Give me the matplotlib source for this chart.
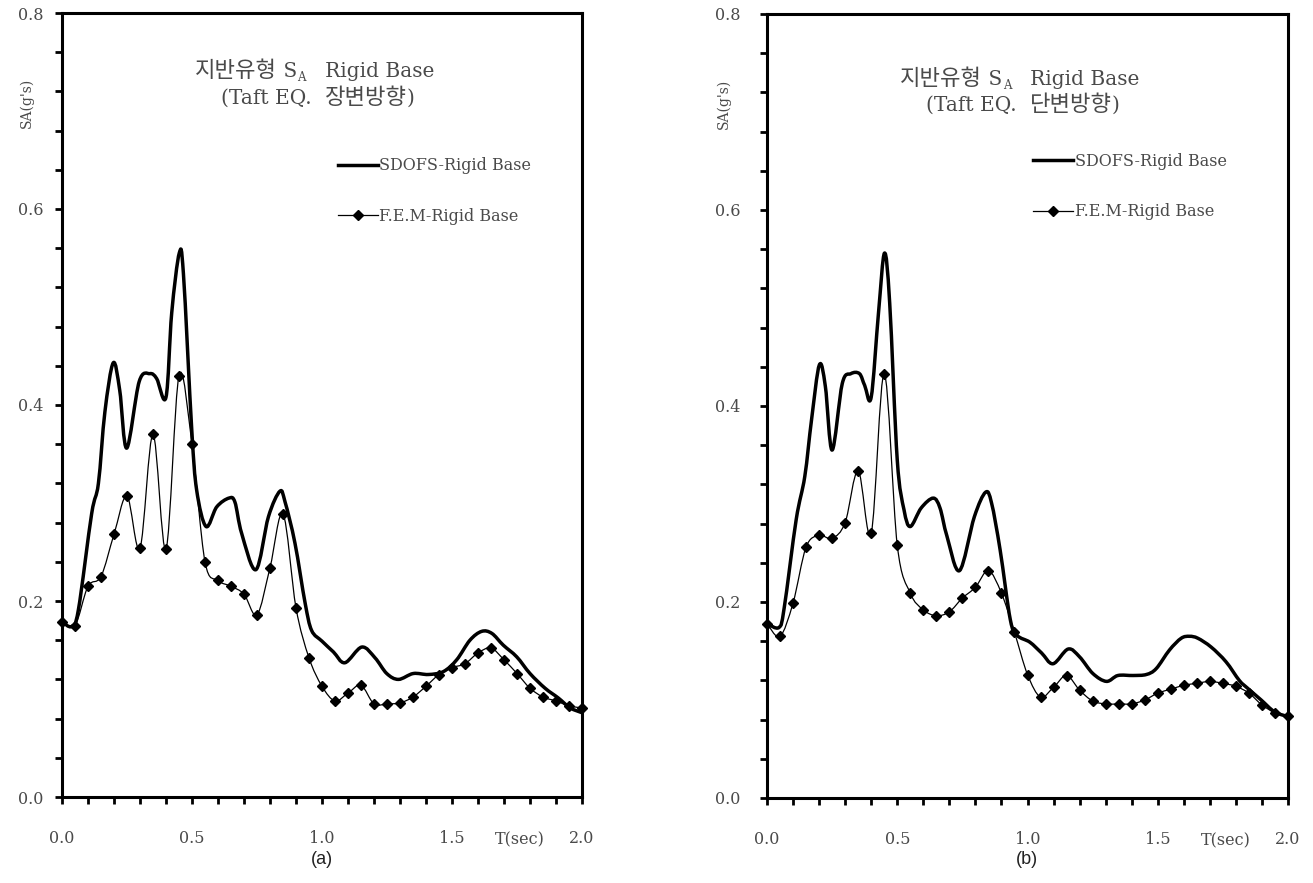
import numpy as np
import matplotlib.pyplot as plt
from matplotlib.path import Path
from matplotlib.patches import PathPatch
from matplotlib.lines import Line2D
from matplotlib.ticker import MultipleLocator, FormatStrFormatter

# Fonts: serif for latin, Korean glyphs fall back to Noto Sans CJK KR
SERIF = ['DejaVu Serif', 'Noto Sans CJK KR']
GREY = '#4a4a4a'

# ---- (a) Taft EQ, long side direction ----
t_sdofs_a = [0.000, 0.037, 0.063, 0.114, 0.140, 0.165, 0.197, 0.222, 0.249, 0.297,
             0.338, 0.364, 0.400, 0.422, 0.451, 0.467, 0.499, 0.518, 0.554, 0.595,
             0.642, 0.665, 0.691, 0.746, 0.794, 0.838, 0.858, 0.896, 0.935, 0.960,
             1.000, 1.044, 1.088, 1.153, 1.204, 1.249, 1.294, 1.351, 1.409, 1.467,
             1.518, 1.569, 1.614, 1.653, 1.697, 1.749, 1.800, 1.858, 1.909, 1.954,
             2.000]
sa_sdofs_a = [0.179, 0.174, 0.191, 0.289, 0.320, 0.393, 0.443, 0.415, 0.356, 0.424,
              0.432, 0.427, 0.408, 0.494, 0.555, 0.534, 0.375, 0.313, 0.276, 0.296,
              0.305, 0.301, 0.269, 0.232, 0.286, 0.312, 0.301, 0.259, 0.198, 0.170,
              0.159, 0.148, 0.137, 0.153, 0.142, 0.126, 0.120, 0.126, 0.125, 0.128,
              0.140, 0.160, 0.169, 0.167, 0.155, 0.143, 0.126, 0.111, 0.101, 0.091,
              0.086]

# F.E.M results are given every 0.05 s
t_fem = [0.00, 0.05, 0.10, 0.15, 0.20, 0.25, 0.30, 0.35, 0.40, 0.45,
         0.50, 0.55, 0.60, 0.65, 0.70, 0.75, 0.80, 0.85, 0.90, 0.95,
         1.00, 1.05, 1.10, 1.15, 1.20, 1.25, 1.30, 1.35, 1.40, 1.45,
         1.50, 1.55, 1.60, 1.65, 1.70, 1.75, 1.80, 1.85, 1.90, 1.95,
         2.00]
sa_fem_a = [0.179, 0.175, 0.215, 0.225, 0.268, 0.307, 0.254, 0.370, 0.253, 0.430,
            0.360, 0.240, 0.221, 0.215, 0.207, 0.186, 0.234, 0.289, 0.193, 0.142,
            0.113, 0.098, 0.106, 0.114, 0.095, 0.095, 0.096, 0.102, 0.113, 0.125,
            0.132, 0.136, 0.147, 0.152, 0.140, 0.126, 0.111, 0.102, 0.098, 0.093,
            0.091]

# ---- (b) Taft EQ, short side direction ----
t_sdofs_b = [0.000, 0.046, 0.066, 0.112, 0.145, 0.171, 0.201, 0.224, 0.250, 0.289,
             0.322, 0.355, 0.375, 0.400, 0.428, 0.451, 0.471, 0.500, 0.526, 0.550,
             0.592, 0.638, 0.664, 0.691, 0.739, 0.796, 0.839, 0.862, 0.895, 0.934,
             0.960, 1.009, 1.054, 1.098, 1.156, 1.200, 1.251, 1.303, 1.347, 1.405,
             1.456, 1.494, 1.545, 1.590, 1.622, 1.654, 1.705, 1.762, 1.813, 1.845,
             1.897, 1.948, 2.000]
sa_sdofs_b = [0.178, 0.174, 0.194, 0.284, 0.328, 0.386, 0.442, 0.420, 0.355, 0.423,
              0.433, 0.433, 0.421, 0.409, 0.495, 0.556, 0.505, 0.345, 0.294, 0.277,
              0.296, 0.306, 0.296, 0.267, 0.232, 0.287, 0.312, 0.301, 0.253, 0.182,
              0.166, 0.159, 0.148, 0.137, 0.152, 0.144, 0.127, 0.119, 0.125, 0.125,
              0.126, 0.132, 0.151, 0.163, 0.165, 0.163, 0.154, 0.139, 0.120, 0.112,
              0.100, 0.088, 0.083]
sa_fem_b = [0.178, 0.165, 0.199, 0.256, 0.268, 0.265, 0.281, 0.334, 0.270, 0.433,
            0.258, 0.209, 0.192, 0.186, 0.190, 0.204, 0.215, 0.232, 0.209, 0.169,
            0.126, 0.103, 0.113, 0.125, 0.110, 0.099, 0.096, 0.096, 0.096, 0.100,
            0.107, 0.111, 0.115, 0.117, 0.119, 0.117, 0.114, 0.107, 0.095, 0.087,
            0.084]

labels = ['SDOFS-Rigid Base', 'F.E.M-Rigid Base']


def smooth_path(x, y):
    # smoothed line (Bezier segments through every point, like a spreadsheet "smooth line")
    x = np.asarray(x, float)
    y = np.asarray(y, float)
    px = np.r_[x[0], x, x[-1]]
    py = np.r_[y[0], y, y[-1]]
    verts = [(x[0], y[0])]
    codes = [Path.MOVETO]
    for i in range(1, len(px) - 2):
        c1 = (px[i] + (px[i + 1] - px[i - 1]) / 6, py[i] + (py[i + 1] - py[i - 1]) / 6)
        c2 = (px[i + 1] - (px[i + 2] - px[i]) / 6, py[i + 1] - (py[i + 2] - py[i]) / 6)
        verts += [c1, c2, (px[i + 1], py[i + 1])]
        codes += [Path.CURVE4] * 3
    return Path(verts, codes)


def text_run(ax, x0, yb, pieces):
    # pieces of one title line written left to right on a shared baseline;
    # each piece is (text, fontsize, vertical offset in points)
    prev = None
    for s, size, dy in pieces:
        kw = dict(ha='left', va='baseline', family=SERIF, fontsize=size, color=GREY,
                  textcoords='offset points', xytext=(0, dy))
        if prev is None:
            prev = ax.annotate(s, xy=(x0, yb), xycoords='axes fraction', **kw)
        else:
            prev = ax.annotate(s, xy=(1, yb), xycoords=(prev, ax.transAxes), **kw)


def draw_panel(ax, t_sd, sa_sd, sa_fe, direction, ylab_x, ytick_pad, title_y, leg_pos):
    ax.add_patch(PathPatch(smooth_path(t_sd, sa_sd), fill=False, lw=2.5,
                           ec='black', capstyle='round', joinstyle='round'))
    ax.add_patch(PathPatch(smooth_path(t_fem, sa_fe), fill=False, lw=0.9, ec='black'))
    ax.plot(t_fem, sa_fe, ls='none', marker='D', ms=4.8, color='black', clip_on=False)

    ax.set_xlim(0, 2.0)
    ax.set_ylim(0, 0.8)
    ax.xaxis.set_major_locator(MultipleLocator(0.5))
    ax.xaxis.set_minor_locator(MultipleLocator(0.1))
    ax.yaxis.set_major_locator(MultipleLocator(0.2))
    ax.yaxis.set_minor_locator(MultipleLocator(0.04))
    ax.xaxis.set_major_formatter(FormatStrFormatter('%.1f'))
    ax.yaxis.set_major_formatter(FormatStrFormatter('%.1f'))
    for s in ax.spines.values():
        s.set_linewidth(2.2)
    ax.tick_params(which='both', direction='out', length=5, width=2, color='black')
    ax.tick_params(axis='x', which='major', pad=19, labelsize=11.5, labelcolor=GREY)
    ax.tick_params(axis='y', which='major', pad=ytick_pad, labelsize=11.5, labelcolor=GREY)
    for lab in ax.get_xticklabels() + ax.get_yticklabels():
        lab.set_family(SERIF)

    # x axis unit sits between the 1.5 and 2.0 labels
    ax.text(1.76, -0.055, 'T(sec)', transform=ax.get_xaxis_transform(),
            ha='center', va='center', family=SERIF, fontsize=11.5, color=GREY)
    ax.text(ylab_x, 0.885, "SA(g's)", transform=ax.transAxes, rotation=90,
            ha='center', va='center', family=SERIF, fontsize=10, color=GREY)

    # title: 지반유형 S_A   Rigid Base / (Taft EQ. ...)
    text_run(ax, 0.256, title_y, [('지반유형', 16, 0), (' S', 14.5, 0), ('A', 8.5, -3),
                                  ('   Rigid Base', 14.5, 0)])
    text_run(ax, 0.306, title_y - 0.034, [('(Taft EQ.  ', 14.5, 0), (direction, 16, 0),
                                          (')', 14.5, 0)])

    handles = [Line2D([], [], color='black', lw=2.5),
               Line2D([], [], color='black', lw=0.9, marker='D', ms=4.8)]
    ax.legend(handles, labels, loc='upper left', bbox_to_anchor=leg_pos,
              frameon=False, handlelength=2.5, handletextpad=0.1, labelspacing=2.1,
              borderpad=0, borderaxespad=0, labelcolor=GREY,
              prop=dict(family=SERIF, size=11.5))


fig = plt.figure(figsize=(13.13, 8.83), dpi=100)
ax_a = fig.add_axes([62 / 1313, 86 / 883, 520 / 1313, 784 / 883])
ax_b = fig.add_axes([767 / 1313, 85 / 883, 521 / 1313, 784 / 883])

draw_panel(ax_a, t_sdofs_a, sa_sdofs_a, sa_fem_a, '장변방향', -0.067, 8.5, 0.918, (0.530, 0.816))
draw_panel(ax_b, t_sdofs_b, sa_sdofs_b, sa_fem_b, '단변방향', -0.084, 14, 0.910, (0.511, 0.823))

fig.text(322 / 1313, 1 - 860 / 883, '(a)', ha='center', va='center',
         family='Liberation Sans', fontsize=13, color='#222222')
fig.text(1027 / 1313, 1 - 860 / 883, '(b)', ha='center', va='center',
         family='Liberation Sans', fontsize=13, color='#222222')

fig.savefig('out.png', dpi=100, facecolor='white')
